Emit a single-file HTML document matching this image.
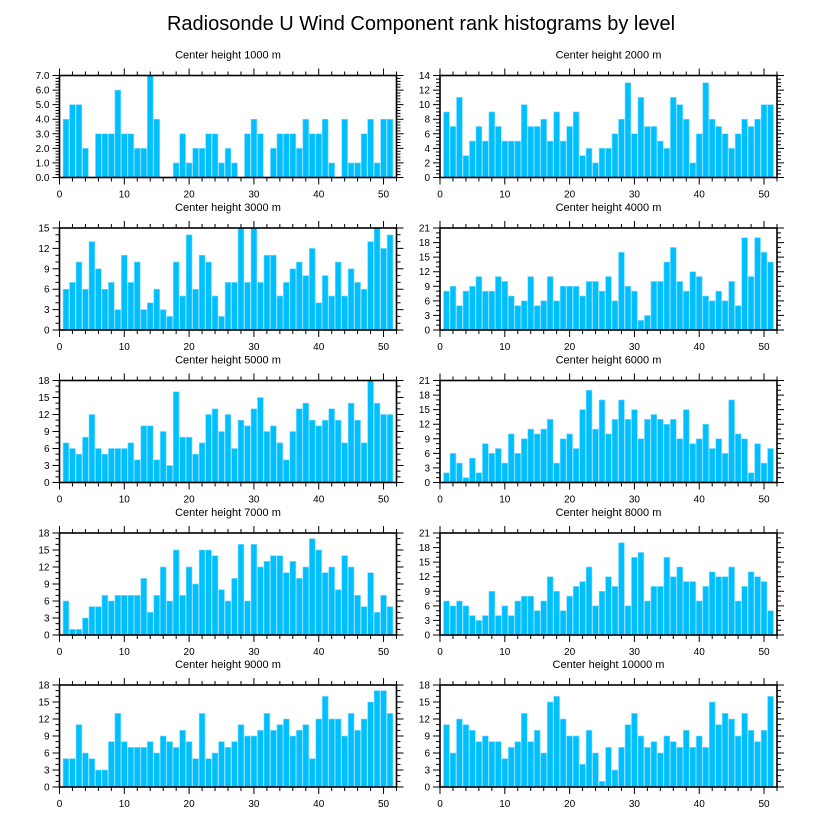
<!DOCTYPE html>
<html><head><meta charset="utf-8"><style>
html,body{margin:0;padding:0;background:#fff;}
svg{display:block;font-family:"Liberation Sans",sans-serif;}
</style></head><body>
<svg id="chart" width="818" height="824" viewBox="0 0 818 824" xmlns="http://www.w3.org/2000/svg">
<text x="421" y="30" font-size="20" text-anchor="middle" fill="#000">Radiosonde U Wind Component rank histograms by level</text>
</svg>
<script>
const panelTitles = ["Center height 1000 m","Center height 2000 m","Center height 3000 m","Center height 4000 m","Center height 5000 m","Center height 6000 m","Center height 7000 m","Center height 8000 m","Center height 9000 m","Center height 10000 m"];
const ranks = Array.from({length:51},(_,i)=>i+1);
const h1000 = [4,5,5,2,0,3,3,3,6,3,3,2,2,7,4,0,0,1,3,1,2,2,3,3,1,2,1,0,3,4,3,0,2,3,3,3,2,4,3,3,4,1,0,4,1,1,3,4,1,4,4];
const h2000 = [9,7,11,3,5,7,5,9,7,5,5,5,10,7,7,8,5,9,5,7,9,3,4,2,4,4,6,8,13,6,11,7,7,5,4,11,10,8,2,6,13,8,7,6,4,6,8,7,8,10,10];
const h3000 = [6,7,10,6,13,9,6,7,3,11,7,10,3,4,6,3,2,10,5,14,6,11,10,5,2,7,7,15,7,15,7,11,11,5,7,9,10,8,12,4,8,5,10,5,9,7,6,13,15,12,14];
const h4000 = [8,9,5,8,9,11,8,8,11,10,7,5,6,11,5,6,11,6,9,9,9,7,10,10,8,11,6,16,9,8,2,3,10,10,14,17,10,8,12,11,7,6,8,6,10,5,19,11,19,16,14];
const h5000 = [7,6,5,8,12,6,5,6,6,6,7,4,10,10,4,9,3,16,8,8,5,7,12,13,9,12,6,11,10,13,15,9,10,7,4,9,13,14,11,10,11,13,11,7,14,11,7,18,14,12,12];
const h6000 = [2,6,4,1,5,2,8,6,7,4,10,6,9,11,10,11,13,4,9,10,7,15,19,11,17,10,13,17,13,15,9,13,14,13,12,13,9,15,8,9,12,7,9,6,17,10,9,2,8,4,7];
const h7000 = [6,1,1,3,5,5,7,6,7,7,7,7,10,4,7,12,6,15,7,12,9,15,15,14,8,6,10,16,6,16,12,13,14,14,11,13,10,12,17,15,11,12,8,14,12,7,5,11,4,7,5];
const h8000 = [7,6,7,6,4,3,4,9,4,6,4,7,8,8,5,7,12,9,5,8,10,11,14,6,9,12,10,19,6,16,17,7,10,10,16,12,14,11,11,7,10,13,12,12,14,7,10,13,12,11,5];
const h9000 = [5,5,11,6,5,3,3,8,13,8,7,7,7,8,6,9,8,7,10,8,5,13,5,6,8,7,8,11,9,9,10,13,10,11,12,9,10,11,5,12,16,12,12,9,13,10,12,15,17,17,13];
const h10000 = [11,6,12,11,10,8,9,8,8,5,7,8,13,8,10,6,15,16,12,9,9,4,10,6,1,7,3,7,11,13,9,7,8,6,9,8,7,10,7,9,7,15,11,13,12,9,13,10,8,10,16];
const yMax = [7,14,15,21,18,21,18,21,18,18];
const yStep = [1,2,3,3,3,3,3,3,3,3];
const xTicks = [0,10,20,30,40,50];

const series = [h1000,h2000,h3000,h4000,h5000,h6000,h7000,h8000,h9000,h10000];
const svg = document.getElementById('chart');
const NS = 'http://www.w3.org/2000/svg';
function mk(tag, attrs, parent){const e=document.createElementNS(NS,tag);for(const k in attrs)e.setAttribute(k,attrs[k]);parent.appendChild(e);return e;}

const colX = [59.5, 440];
const rowY = [75.5, 228, 380.5, 533, 685];
const PW = 337, PH = 102, XMAX = 52;

series.forEach((vals, p) => {
  const L = colX[p%2], T = rowY[Math.floor(p/2)], B = T+PH, R = L+PW;
  const ymax = yMax[p], step = yStep[p];
  const xs = v => L + v/XMAX*PW;
  const ys = v => B - v/ymax*PH;
  const g = mk('g', {}, svg);
  
  
  const t = mk('text', {x:(L+R)/2, y:T-17, 'font-size':11, 'text-anchor':'middle', fill:'#000'}, g);
  t.textContent = panelTitles[p];
  
  
  // bars
  vals.forEach((v, i) => {
    if (v <= 0) return;
    const x = ranks[i];
    const r = mk('rect', {x:xs(x-0.45), y:ys(v), width:xs(0.9)-xs(0), height:B-ys(v), fill:'#00bfff', stroke:'#7fdcff', 'stroke-width':0.6}, g);
    
    
  });
  // frame
  const f = mk('rect', {x:L, y:T, width:PW, height:PH, fill:'none', stroke:'#000', 'stroke-width':1.6}, g);
  
  
  // x ticks
  let d = '';
  for (let v=0; v<=XMAX; v+=2) {
    const major = v%10===0, len = major?7:4, x = xs(v);
    d += `M${x},${B}v${len}M${x},${T}v${-len}`;
  }
  // y ticks
  const minor = step===1?0.2:(step===2?0.5:1);
  for (let v=0; v<=ymax+1e-9; v+=minor) {
    const isMaj = Math.abs(v/step - Math.round(v/step))<1e-6, len = isMaj?7:4, y = ys(v);
    d += `M${L},${y}h${-len}M${R},${y}h${len}`;
  }
  const tk = mk('path', {d:d, stroke:'#000', 'stroke-width':1, fill:'none'}, g);
  
  
  xTicks.forEach(v => {
    const tx = mk('text', {x:xs(v), y:B+20, 'font-size':10, 'text-anchor':'middle', fill:'#000'}, g);
    tx.textContent = v;
    
    
  });
  for (let v=0; v<=ymax; v+=step) {
    const ty = mk('text', {x:L-10, y:ys(v)+3.5, 'font-size':10, 'text-anchor':'end', fill:'#000'}, g);
    ty.textContent = step===1 ? v.toFixed(1) : v;
    
    
  }
});
</script>
</body></html>
